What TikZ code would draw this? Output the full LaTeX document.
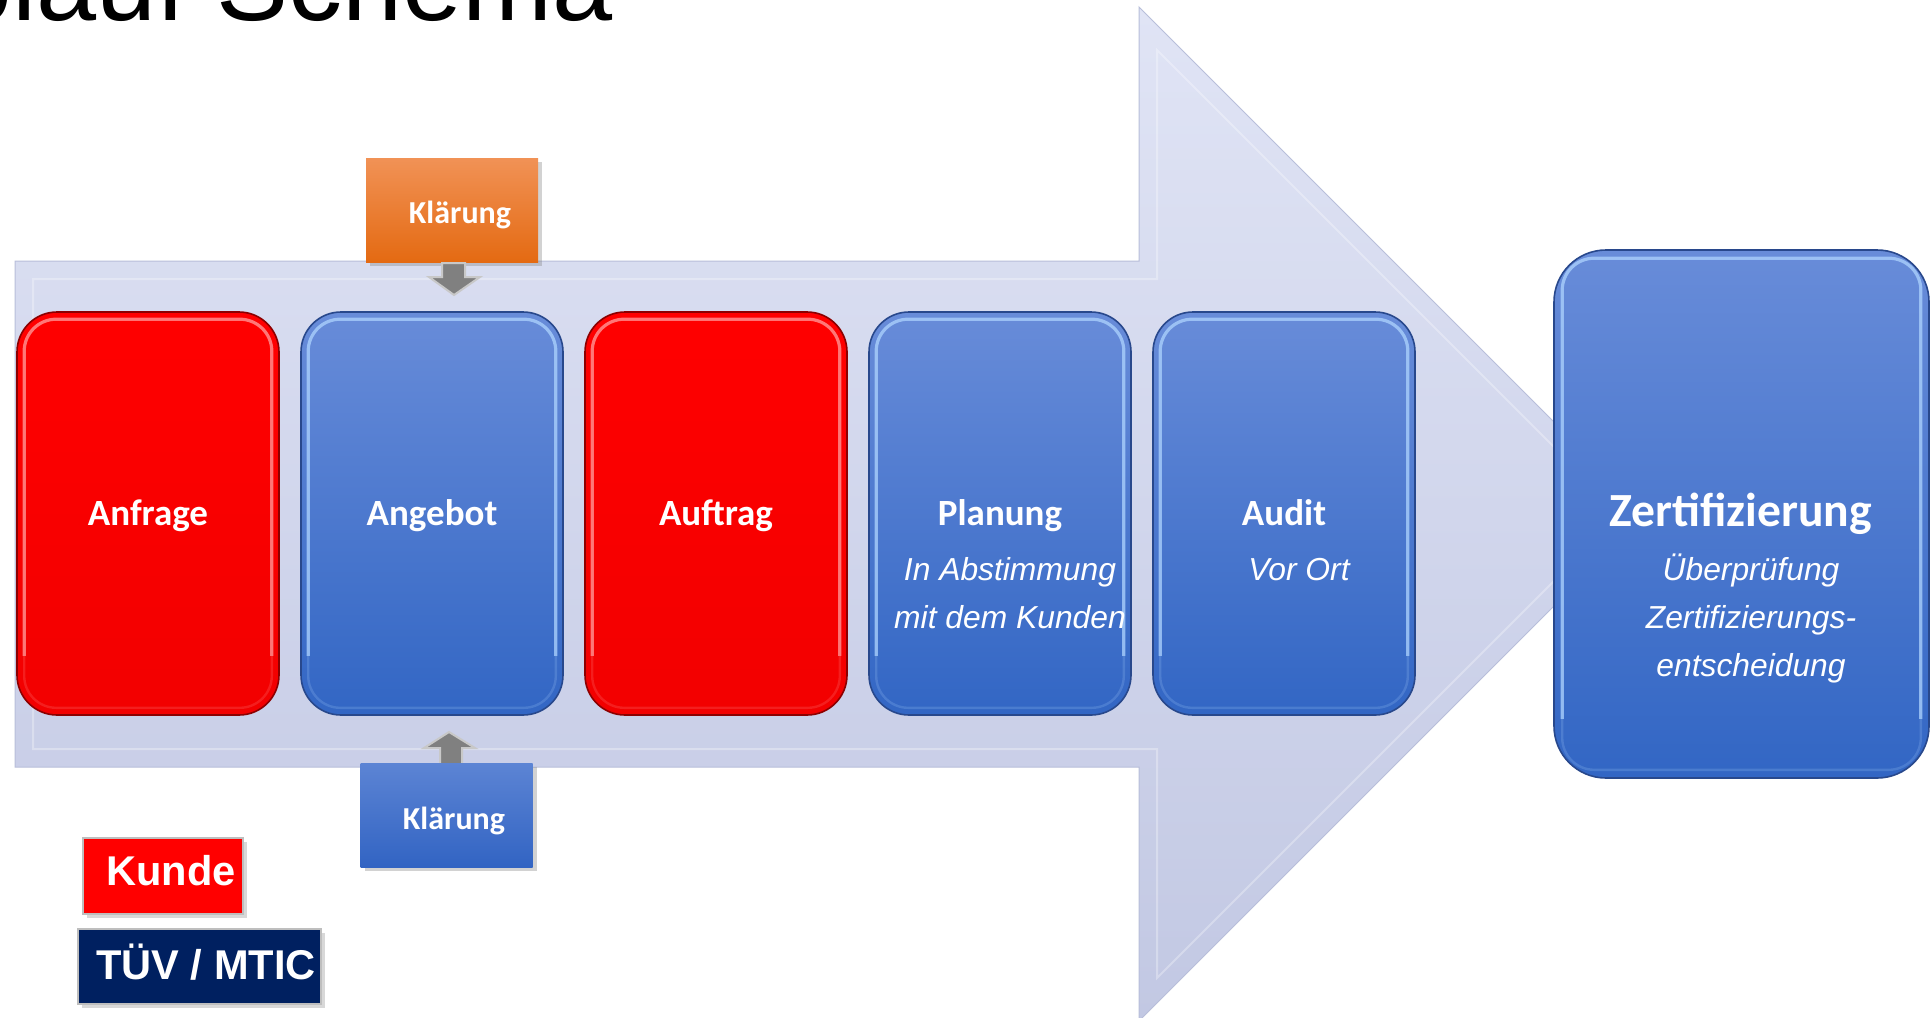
\documentclass[tikz,border=0pt]{standalone}
\usepackage{fontspec}
\setmainfont{Liberation Sans}
\newfontfamily\calib{Carlito}
\usetikzlibrary{shadings,shadows,calc}
\definecolor{arrTop}{RGB}{224,228,245}
\definecolor{arrBot}{RGB}{194,200,227}
\definecolor{arrEdge}{RGB}{184,190,218}
\definecolor{bluTop}{RGB}{104,140,217}
\definecolor{bluBot}{RGB}{50,102,196}
\definecolor{bluEdge}{RGB}{40,72,140}
\definecolor{bluHi}{RGB}{170,208,252}
\definecolor{redTop}{RGB}{255,0,0}
\definecolor{redBot}{RGB}{242,0,0}
\definecolor{redEdge}{RGB}{140,0,0}
\definecolor{redHi}{RGB}{255,150,150}
\definecolor{orTop}{RGB}{241,146,86}
\definecolor{orBot}{RGB}{228,106,18}
\definecolor{kbTop}{RGB}{92,132,212}
\definecolor{kbBot}{RGB}{50,100,195}
\definecolor{navy}{RGB}{0,32,96}
\definecolor{legEdge}{RGB}{190,190,190}
\definecolor{greyArr}{RGB}{128,128,128}
\definecolor{greyArrEdge}{RGB}{200,200,200}
\tikzset{
  stage/.style={rectangle, rounded corners=20pt, minimum width=131pt, minimum height=201.5pt, inner sep=0pt, line width=0.8pt},
  bluestage/.style={stage, draw=bluEdge, top color=bluTop, bottom color=bluBot},
  redstage/.style={stage, draw=redEdge, top color=redTop, bottom color=redBot},
  hilite/.style={rounded corners=16pt, line width=1.6pt, draw opacity=0.75},
  hilitelow/.style={rounded corners=16pt, line width=1.2pt, draw opacity=0.2},
  ttl/.style={font=\calib\bfseries\fontsize{18.5}{22}\selectfont, text=white, anchor=base, inner sep=0pt},
  sub/.style={font=\itshape\fontsize{15.9}{19}\selectfont, text=white, anchor=base, inner sep=0pt},
  klbox/.style={rectangle, minimum width=86pt, minimum height=52pt, inner sep=0pt, drop shadow={opacity=0.35, shadow xshift=2pt, shadow yshift=-2pt}},
  kltxt/.style={font=\calib\bfseries\fontsize{16}{19}\selectfont, text=white, anchor=base, inner sep=0pt},
  legbox/.style={rectangle, draw=legEdge, line width=1.2pt, inner sep=0pt, drop shadow={opacity=0.3, shadow xshift=2pt, shadow yshift=-2pt}},
  legtxt/.style={font=\bfseries\fontsize{20.8}{24}\selectfont, text=white, anchor=base, inner sep=0pt},
  greyarrow/.style={fill=greyArr, draw=greyArrEdge, line width=1pt, line join=miter},
}
\newcommand{\glasshi}[3]{% node, colour, inset
  \draw[hilitelow, #2] ([shift={(#3,#3)}]#1.north west) rectangle ([shift={(-#3,-#3)}]#1.south east);
  \draw[hilite, #2] ([shift={(#3,-60)}]#1.south west) -- ([shift={(#3,#3)}]#1.north west)
     -- ([shift={(-#3,#3)}]#1.north east) -- ([shift={(-#3,-60)}]#1.south east);
}
\begin{document}
\begin{tikzpicture}[x=0.5pt,y=-0.5pt]
\useasboundingbox (0,0) rectangle (1931,1017);
\fill[white] (0,0) rectangle (1931,1017);

% title (cut by the top edge, as in the reference)
\node[anchor=base east, inner sep=0pt, font=\fontsize{54}{60}\selectfont] (title) at (613,20) {Ablauf Schema};

% big process arrow
\path[top color=arrTop, bottom color=arrBot, draw=arrEdge, line width=0.5pt]
  (15,261) -- (1139,261) -- (1139,7) -- (1646,514) -- (1139,1021) -- (1139,767) -- (15,767) -- cycle;
\draw[white, opacity=0.3, line width=1pt]
  (33,279) -- (1157,279) -- (1157,50) -- (1621,514) -- (1157,978) -- (1157,749) -- (33,749) -- cycle;

% stages
\node[redstage] (anfrage) at (148,513.5) {};
\node[bluestage] (angebot) at (432,513.5) {};
\node[redstage] (auftrag) at (716,513.5) {};
\node[bluestage] (planung) at (1000,513.5) {};
\node[bluestage] (audit) at (1284,513.5) {};
\node[bluestage, minimum width=187.5pt, minimum height=264pt, rounded corners=26pt] (zert) at (1741.5,514) {};

\glasshi{anfrage}{redHi}{8}
\glasshi{auftrag}{redHi}{8}
\glasshi{angebot}{bluHi}{8}
\glasshi{planung}{bluHi}{8}
\glasshi{audit}{bluHi}{8}
\glasshi{zert}{bluHi}{9}

% stage texts
\node[ttl] (tAnfrage) at (148,525) {Anfrage};
\node[ttl] (tAngebot) at (432,525) {Angebot};
\node[ttl] (tAuftrag) at (716,525) {Auftrag};
\node[ttl] (tPlanung) at (1000,525) {Planung};
\node[sub] (sPlan1) at (1010,580) {In Abstimmung};
\node[sub] (sPlan2) at (1010,628) {mit dem Kunden};
\node[ttl] (tAudit) at (1284,525) {Audit};
\node[sub] (sAudit) at (1299,580) {Vor Ort};
\node[ttl, font=\calib\bfseries\fontsize{23.8}{28}\selectfont] (tZert) at (1741,526) {Zertifizierung};
\node[sub] (sZ1) at (1751,580) {Überprüfung};
\node[sub] (sZ2) at (1751,628) {Zertifizierungs-};
\node[sub] (sZ3) at (1751,676) {entscheidung};

% Klärung (top, orange) with arrow down to Angebot
\node[klbox, top color=orTop, bottom color=orBot] (k1) at (452,210) {};
\node[kltxt] (k1t) at (460,223) {Klärung};
\draw[greyarrow] (442,263) -- (465,263) -- (465,277) -- (480,277) -- (454,295) -- (429,277) -- (442,277) -- cycle;

% Klärung (bottom, blue) with arrow up to Angebot
\draw[greyarrow] (440,764) -- (440,748) -- (424,748) -- (449,732) -- (475,748) -- (462,748) -- (462,764) -- cycle;
\node[klbox, top color=kbTop, bottom color=kbBot] (k2) at (446.5,815) {};
\node[kltxt] (k2t) at (454,829) {Klärung};

% legend
\node[legbox, fill=red, minimum width=80pt, minimum height=38pt] (kunde) at (163,876) {};
\node[legtxt] (kundeT) at (171,885) {Kunde};
\node[legbox, fill=navy, minimum width=121.5pt, minimum height=37.5pt] (tuev) at (199.5,966.5) {};
\node[legtxt] (tuevT) at (206,979) {TÜV / MTIC};
\end{tikzpicture}
\end{document}
